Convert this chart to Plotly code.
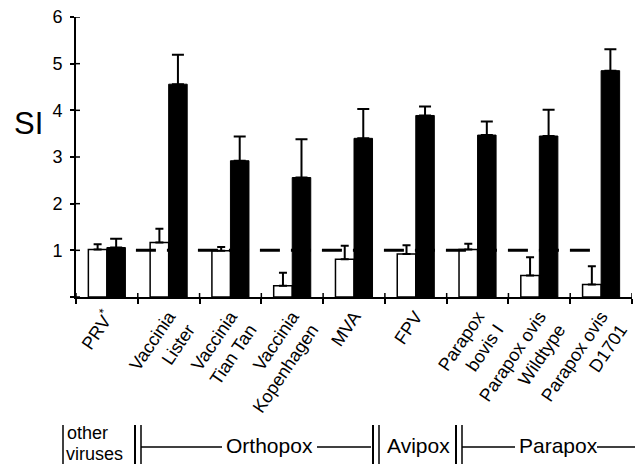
import plotly.graph_objects as go

# ---- data ----
categories = ["PRV<sup>*</sup>", "Vaccinia<br>Lister", "Vaccinia<br>Tian Tan",
              "Vaccinia<br>Kopenhagen", "MVA", "FPV", "Parapox<br>bovis I",
              "Parapox ovis<br>Wildtype", "Parapox ovis<br>D1701"]
white_vals = [1.02, 1.17, 0.99, 0.24, 0.81, 0.92, 1.02, 0.46, 0.27]
white_err = [0.11, 0.29, 0.08, 0.28, 0.29, 0.19, 0.12, 0.39, 0.39]
black_vals = [1.06, 4.56, 2.92, 2.56, 3.40, 3.89, 3.47, 3.45, 4.85]
black_err = [0.19, 0.63, 0.52, 0.82, 0.63, 0.19, 0.29, 0.56, 0.46]
y_ticks = [0, 1, 2, 3, 4, 5, 6]
y_ticktext = ["", "1", "2", "3", "4", "5", "6"]
threshold = 1
groups = ["Orthopox", "Avipox", "Parapox"]

FONT = "Liberation Sans, Arial, Helvetica, sans-serif"
W, H = 643, 464
OFF = 8  # page body offset
# plot area in window pixels: x 76..632, y 17..297
PX0, PX1, PY0, PY1 = 76, 632, 17, 297
L = PX0 - OFF
R = W - (PX1 - OFF)
T = PY0 - OFF
B = H - (PY1 - OFF)

def px2x(px):
    return (px - PX0) / (PX1 - PX0)

def py2y(py):
    return (PY1 - py) / (PY1 - PY0)

fig = go.Figure()
fig.add_trace(go.Bar(
    x=categories, y=white_vals, marker=dict(color="white", line=dict(color="black", width=1.5)),
    error_y=dict(type="data", symmetric=False, array=white_err, arrayminus=[0] * len(white_err),
                 color="black", thickness=2, width=4),
    showlegend=False))
fig.add_trace(go.Bar(
    x=categories, y=black_vals, marker=dict(color="black", line=dict(color="black", width=1)),
    error_y=dict(type="data", symmetric=False, array=black_err, arrayminus=[0] * len(black_err),
                 color="black", thickness=2, width=6),
    showlegend=False))

shapes = []
n = len(categories)
# inner halves of x ticks (crossing ticks)
for i in range(n + 1):
    shapes.append(dict(type="line", xref="x", yref="y", x0=i - 0.5, x1=i - 0.5,
                       ysizemode="pixel", yanchor=0, y0=0, y1=4,
                       line=dict(color="black", width=1.5)))
# inner halves of y ticks
for v in y_ticks:
    shapes.append(dict(type="line", xref="x", yref="y", y0=v, y1=v,
                       xsizemode="pixel", xanchor=-0.5, x0=0, x1=4,
                       line=dict(color="black", width=1.5)))
# dashed threshold line
shapes.append(dict(type="line", xref="x", yref="y", x0=0.47, x1=7.95, y0=threshold, y1=threshold,
                   line=dict(color="black", width=3, dash="20px,11px"), layer="above"))

# group bracket row
def vline(px, w=1.5):
    shapes.append(dict(type="line", xref="paper", yref="paper", x0=px2x(px), x1=px2x(px),
                       y0=py2y(425), y1=py2y(480), line=dict(color="black", width=w)))

def hline(p0, p1):
    shapes.append(dict(type="line", xref="paper", yref="paper", x0=px2x(p0), x1=px2x(p1),
                       y0=py2y(447), y1=py2y(447), line=dict(color="black", width=1.3)))

vline(63, 1.5)
vline(135, 2); vline(141, 1.5)
hline(141, 222); hline(317, 371)
vline(373, 2); vline(379, 1.5)
vline(456, 2); vline(462, 1.5)
hline(462, 515); hline(597, 640)
vline(641, 1.5)

annotations = [
    dict(text="SI", xref="paper", yref="y", x=px2x(28), y=3.72, xanchor="center", yanchor="middle",
         showarrow=False, font=dict(family=FONT, size=31, color="black")),
    dict(text="other", xref="paper", yref="paper", x=px2x(65), y=py2y(433), xanchor="left",
         yanchor="middle", showarrow=False, font=dict(family=FONT, size=18, color="black")),
    dict(text="viruses", xref="paper", yref="paper", x=px2x(64), y=py2y(454), xanchor="left",
         yanchor="middle", showarrow=False, font=dict(family=FONT, size=18, color="black")),
]
for g, cx in zip(groups, [269.5, 418.5, 558]):
    annotations.append(dict(text=g, xref="paper", yref="paper", x=px2x(cx), y=py2y(446),
                            xanchor="center", yanchor="middle", showarrow=False,
                            font=dict(family=FONT, size=21, color="black")))

fig.update_layout(
    width=W, height=H, margin=dict(l=L, r=R, t=T, b=B),
    paper_bgcolor="white", plot_bgcolor="white",
    barmode="group", bargap=0.4, bargroupgap=0,
    font=dict(family=FONT, color="black"),
    xaxis=dict(type="category", range=[-0.5, n - 0.5], showline=True, linecolor="black", linewidth=2,
               ticks="outside", tickson="boundaries", ticklen=5, tickwidth=1.5, tickcolor="black",
               tickangle=-56, tickfont=dict(family=FONT, size=18, color="black"),
               showgrid=False, zeroline=False, automargin=False, ticklabeloverflow="allow"),
    yaxis=dict(range=[0, 6], tickvals=y_ticks, ticktext=y_ticktext, showline=True, linecolor="black",
               linewidth=2, ticks="outside", ticklen=4, tickwidth=1.5, tickcolor="black",
               tickfont=dict(family=FONT, size=18, color="black"), showgrid=False, zeroline=False,
               ticklabelstandoff=4, automargin=False, ticklabeloverflow="allow"),
    shapes=shapes, annotations=annotations,
)

fig.write_html("out.html")
